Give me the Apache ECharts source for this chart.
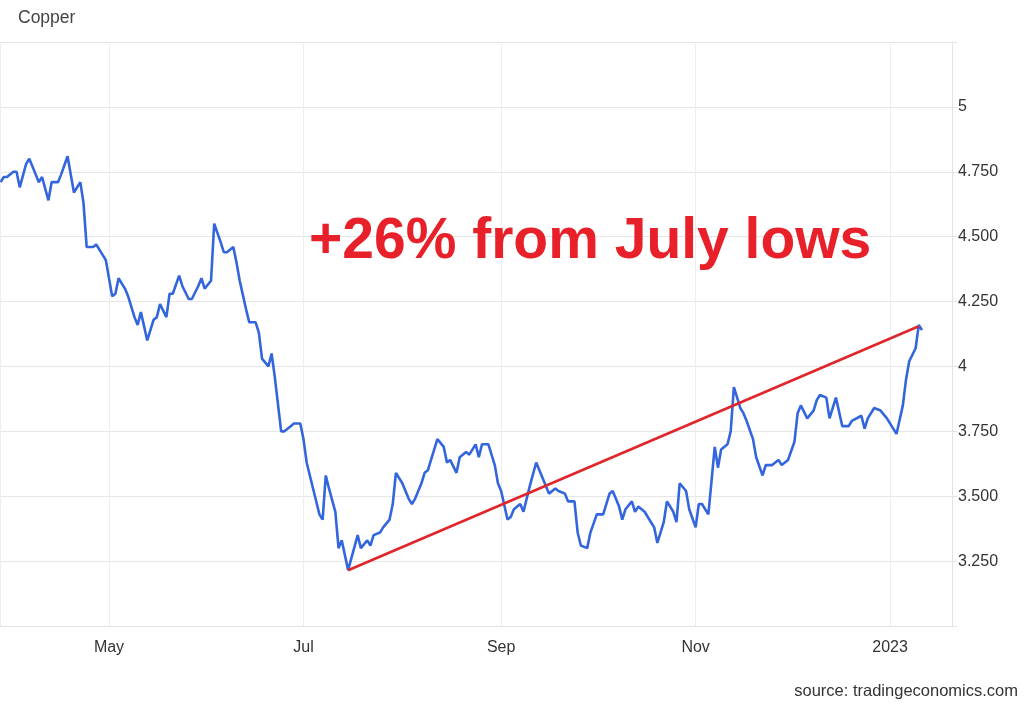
<!DOCTYPE html>
<html>
<head>
<meta charset="utf-8">
<script src="https://cdn.jsdelivr.net/npm/echarts@6/dist/echarts.min.js"></script>
<style>
  html, body { margin: 0; padding: 0; background: #ffffff; }
  #chart { width: 1024px; height: 706px; }
</style>
</head>
<body>
<div id="chart"></div>
<script>
// ---- data ----
const chartTitle = 'Copper';
const annotationText = '+26% from July lows';
const sourceText = 'source: tradingeconomics.com';

const dates = [
  '2022-03-28','2022-03-29','2022-03-30','2022-04-01','2022-04-02','2022-04-03','2022-04-05','2022-04-06','2022-04-08','2022-04-09',
  '2022-04-10','2022-04-12','2022-04-13','2022-04-15','2022-04-16','2022-04-18','2022-04-19','2022-04-20','2022-04-22','2022-04-23',
  '2022-04-24','2022-04-26','2022-04-27','2022-04-29','2022-04-30','2022-05-02','2022-05-03','2022-05-04','2022-05-06','2022-05-07',
  '2022-05-09','2022-05-10','2022-05-11','2022-05-13','2022-05-15','2022-05-16','2022-05-17','2022-05-19','2022-05-20','2022-05-21',
  '2022-05-23','2022-05-24','2022-05-26','2022-05-27','2022-05-29','2022-05-30','2022-05-31','2022-06-02','2022-06-03','2022-06-05',
  '2022-06-06','2022-06-07','2022-06-09','2022-06-10','2022-06-11','2022-06-13','2022-06-14','2022-06-16','2022-06-17','2022-06-18',
  '2022-06-20','2022-06-21','2022-06-22','2022-06-24','2022-06-25','2022-06-27','2022-06-28','2022-06-30','2022-07-01','2022-07-02',
  '2022-07-04','2022-07-06','2022-07-07','2022-07-08','2022-07-09','2022-07-11','2022-07-12','2022-07-13','2022-07-15','2022-07-18',
  '2022-07-19','2022-07-21','2022-07-22','2022-07-23','2022-07-25','2022-07-26','2022-07-28','2022-07-29','2022-07-30','2022-08-01',
  '2022-08-03','2022-08-04','2022-08-05','2022-08-07','2022-08-08','2022-08-09','2022-08-12','2022-08-14','2022-08-15','2022-08-16',
  '2022-08-18','2022-08-19','2022-08-21','2022-08-22','2022-08-24','2022-08-25','2022-08-26','2022-08-28','2022-08-30','2022-08-31',
  '2022-09-01','2022-09-03','2022-09-04','2022-09-05','2022-09-07','2022-09-08','2022-09-10','2022-09-12','2022-09-14','2022-09-15',
  '2022-09-16','2022-09-18','2022-09-19','2022-09-21','2022-09-22','2022-09-24','2022-09-25','2022-09-26','2022-09-28','2022-09-29',
  '2022-10-01','2022-10-02','2022-10-03','2022-10-05','2022-10-06','2022-10-08','2022-10-09','2022-10-10','2022-10-12','2022-10-13',
  '2022-10-14','2022-10-16','2022-10-17','2022-10-19','2022-10-20','2022-10-22','2022-10-23','2022-10-25','2022-10-26','2022-10-27',
  '2022-10-29','2022-10-30','2022-11-01','2022-11-02','2022-11-03','2022-11-05','2022-11-07','2022-11-08','2022-11-09','2022-11-11',
  '2022-11-12','2022-11-13','2022-11-15','2022-11-16','2022-11-17','2022-11-19','2022-11-20','2022-11-22','2022-11-23','2022-11-25',
  '2022-11-27','2022-11-28','2022-11-30','2022-12-02','2022-12-03','2022-12-04','2022-12-06','2022-12-08','2022-12-09','2022-12-10',
  '2022-12-12','2022-12-13','2022-12-15','2022-12-17','2022-12-19','2022-12-20','2022-12-23','2022-12-24','2022-12-25','2022-12-27',
  '2022-12-29','2022-12-31','2023-01-03','2023-01-05','2023-01-06','2023-01-07','2023-01-09','2023-01-10','2023-01-11'
];

const prices = [
  4.71,4.73,4.73,4.75,4.75,4.69,4.78,4.80,4.74,4.71,
  4.73,4.64,4.71,4.71,4.74,4.81,4.74,4.67,4.71,4.63,
  4.46,4.46,4.47,4.43,4.41,4.27,4.28,4.34,4.30,4.27,
  4.19,4.16,4.21,4.10,4.18,4.19,4.24,4.19,4.28,4.28,
  4.35,4.31,4.26,4.26,4.31,4.34,4.30,4.33,4.55,4.48,
  4.44,4.44,4.46,4.40,4.33,4.22,4.17,4.17,4.13,4.03,
  4.00,4.05,3.96,3.75,3.75,3.77,3.78,3.78,3.72,3.63,
  3.53,3.43,3.41,3.58,3.53,3.44,3.30,3.33,3.215,3.35,
  3.30,3.33,3.31,3.35,3.36,3.38,3.41,3.47,3.59,3.55,
  3.49,3.47,3.49,3.55,3.59,3.60,3.72,3.69,3.63,3.64,
  3.59,3.65,3.67,3.66,3.70,3.65,3.70,3.70,3.62,3.55,
  3.52,3.41,3.42,3.45,3.47,3.44,3.54,3.63,3.57,3.54,
  3.51,3.53,3.52,3.51,3.48,3.48,3.36,3.31,3.30,3.36,
  3.43,3.43,3.43,3.51,3.52,3.46,3.41,3.45,3.48,3.44,
  3.46,3.44,3.42,3.38,3.32,3.40,3.48,3.44,3.40,3.55,
  3.52,3.45,3.38,3.47,3.47,3.43,3.69,3.61,3.68,3.70,
  3.75,3.92,3.84,3.82,3.79,3.72,3.65,3.58,3.62,3.62,
  3.64,3.62,3.64,3.71,3.82,3.85,3.80,3.83,3.87,3.89,
  3.88,3.80,3.88,3.77,3.77,3.79,3.81,3.76,3.80,3.84,
  3.83,3.80,3.74,3.85,3.95,4.02,4.07,4.16,4.14
];

// trend line from the July low to the January high
const trendDates = ['2022-07-15', '2023-01-10'];
const trendValues = [3.215, 4.155];

// axis settings
const xMin = '2022-03-27 19:30';
const xMax = '2023-01-20 10:00';
const yMin = 3;
const yMax = 5.25;
const yStep = 0.25;
const monthNames = ['Jan','Feb','Mar','Apr','May','Jun','Jul','Aug','Sep','Oct','Nov','Dec'];

const seriesData = dates.map((d, i) => [d, prices[i]]);
const trendData = trendDates.map((d, i) => [d, trendValues[i]]);

const chart = echarts.init(document.getElementById('chart'), null, { renderer: 'canvas' });
const DAY = 86400000;

chart.setOption({
  animation: false,
  backgroundColor: '#ffffff',
  title: {
    text: chartTitle,
    left: 13,
    top: 4,
    textStyle: { fontFamily: 'Liberation Sans, Arial, sans-serif', fontSize: 17.5, fontWeight: 'normal', color: '#444444' }
  },
  grid: { left: -1, right: 72, top: 42, bottom: 80, containLabel: false },
  xAxis: {
    type: 'time',
    min: xMin,
    max: xMax,
    splitNumber: 4,
    minInterval: 62 * DAY,
    maxInterval: 70 * DAY,
    axisLine: { show: true, lineStyle: { color: '#e3e3e3', width: 1 } },
    axisTick: { show: false },
    axisLabel: {
      color: '#333333',
      fontFamily: 'Liberation Sans, Arial, sans-serif',
      fontSize: 16,
      margin: 14,
      hideOverlap: false,
      formatter: function (value) {
        const d = new Date(value);
        if (d.getDate() !== 1 || d.getHours() !== 0) return '';
        return d.getMonth() === 0 ? String(d.getFullYear()) : monthNames[d.getMonth()];
      }
    },
    splitLine: { show: true, lineStyle: { color: '#eeeeee', width: 1 } }
  },
  yAxis: {
    type: 'value',
    position: 'right',
    min: yMin,
    max: yMax,
    interval: yStep,
    axisLine: { show: true, lineStyle: { color: '#e3e3e3', width: 1 } },
    axisTick: { show: true, length: 5, lineStyle: { color: '#e3e3e3' } },
    axisLabel: {
      color: '#333333',
      fontFamily: 'Liberation Sans, Arial, sans-serif',
      fontSize: 16,
      margin: 6,
      formatter: function (v) {
        if (v < 3.1 || v > 5.1) return '';
        return Number.isInteger(v) ? String(v) : v.toFixed(3);
      }
    },
    splitLine: { show: true, lineStyle: { color: '#e6e6e6', width: 1 } }
  },
  series: [
    {
      name: 'Copper',
      type: 'line',
      data: seriesData,
      showSymbol: false,
      symbol: 'none',
      lineStyle: { color: '#3366dd', width: 2.6 },
      z: 3
    },
    {
      name: 'Trend',
      type: 'line',
      data: trendData,
      showSymbol: false,
      symbol: 'none',
      lineStyle: { color: '#e0262a', width: 2.6 },
      z: 4
    }
  ],
  graphic: [
    {
      type: 'text',
      left: 309,
      top: 214,
      style: {
        text: annotationText,
        fontFamily: 'Liberation Sans, Arial, sans-serif',
        fontWeight: 'bold',
        fontSize: 57,
        fill: '#e8202a'
      },
      z: 10
    },
    {
      type: 'text',
      right: 6,
      top: 683,
      style: {
        text: sourceText,
        fontFamily: 'Liberation Sans, Arial, sans-serif',
        fontSize: 16.5,
        fill: '#333333'
      }
    }
  ]
});
</script>
</body>
</html>
